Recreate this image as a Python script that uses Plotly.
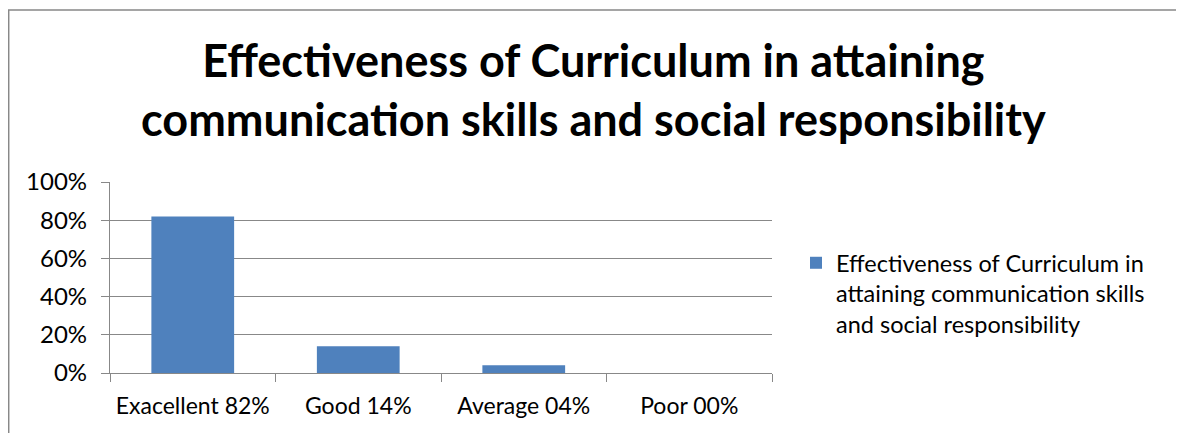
import plotly.graph_objects as go

categories = ["Exacellent 82%", "Good 14%", "Average 04%", "Poor 00%"]
values = [0.82, 0.14, 0.04, 0.0]
series_name = "Effectiveness of Curriculum in<br>attaining communication skills<br>and social responsibility"
title_text = "Effectiveness of Curriculum in attaining<br>communication skills and social responsibility"

FONT = "Lato"
# page is offset by 8px body margin; coordinates below are figure coordinates
L, T, W_PLOT, H_PLOT = 102, 174, 662, 191
FIG_W, FIG_H = 1184, 433

fig = go.Figure()
fig.add_trace(go.Bar(x=categories, y=values, name=series_name,
                     marker=dict(color="#4F81BD", line=dict(width=0)),
                     width=0.5, showlegend=True))

fig.update_layout(
    width=FIG_W, height=FIG_H,
    margin=dict(l=L, r=FIG_W - L - W_PLOT, t=T, b=FIG_H - T - H_PLOT, autoexpand=False),
    paper_bgcolor="white", plot_bgcolor="white",
    font=dict(family=FONT, size=24, color="black"),
    showlegend=True,
    legend=dict(x=(788 - L) / W_PLOT, y=1 - (233 - T) / H_PLOT, xanchor="left", yanchor="top",
                font=dict(size=23.5, family=FONT), valign="top",
                bgcolor="rgba(0,0,0,0)", tracegroupgap=0),
)
fig.update_xaxes(type="category", showgrid=False, showline=True, linecolor="#888888",
                 linewidth=1.3, ticks="outside", tickson="boundaries", ticklen=8,
                 tickcolor="#888888", tickwidth=1.3, tickfont=dict(size=23, family=FONT),
                 ticklabelstandoff=12, tickangle=0, automargin=False)
fig.update_yaxes(range=[0, 1], dtick=0.2, tickformat=".0%", showgrid=True,
                 gridcolor="#888888", gridwidth=1.3, showline=True, linecolor="#888888",
                 linewidth=1.3, ticks="outside", ticklen=8, tickcolor="#888888",
                 tickwidth=1.3, zeroline=False, tickfont=dict(size=24, family=FONT),
                 ticklabelstandoff=9, automargin=False)

fig.add_annotation(text="<b>" + title_text + "</b>", xref="paper", yref="paper",
                   x=(585 - L) / W_PLOT, y=1 + (T - 82) / H_PLOT, xanchor="center",
                   yanchor="middle", showarrow=False,
                   font=dict(size=45, family=FONT, color="black"))

fig.add_shape(type="rect", xref="paper", yref="paper",
              x0=(0.7 - L) / W_PLOT, x1=(1172 - L) / W_PLOT,
              y0=-1.0, y1=1 + (T - 2) / H_PLOT,
              line=dict(color="#888888", width=1.5), fillcolor="rgba(0,0,0,0)", layer="below")

fig.write_html("out.html")
